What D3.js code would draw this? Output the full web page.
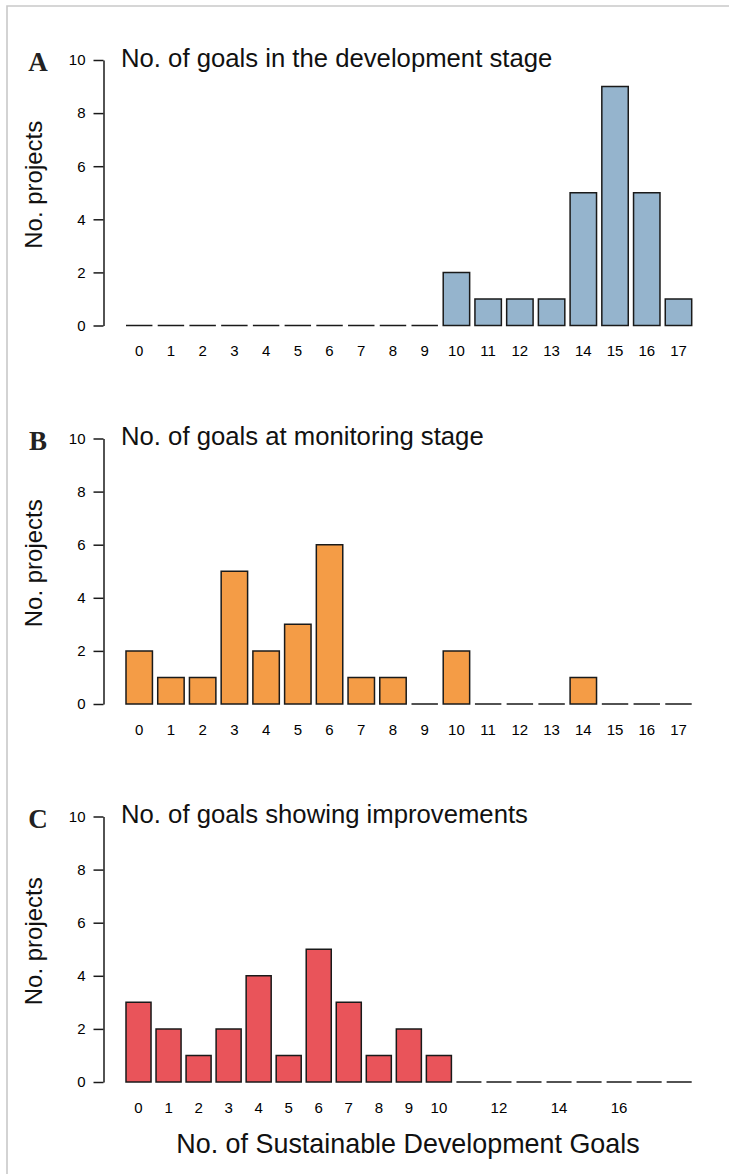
<!DOCTYPE html>
<html>
<head>
<meta charset="utf-8">
<script src="https://cdn.jsdelivr.net/npm/d3@7"></script>
<style>
  html, body { margin: 0; padding: 0; background: #fff; }
  svg { display: block; }
</style>
</head>
<body>
<div id="chart"></div>
<script>
// Number of SDGs per project, by stage
const goalsAB = ["0","1","2","3","4","5","6","7","8","9","10","11","12","13","14","15","16","17"];
const goalsC  = ["0","1","2","3","4","5","6","7","8","9","10","11","12","13","14","15","16","17","18"];

const developmentCounts = [0,0,0,0,0,0,0,0,0,0,2,1,1,1,5,9,5,1];
const monitoringCounts  = [2,1,1,5,2,3,6,1,1,0,2,0,0,0,1,0,0,0];
const improvementCounts = [3,2,1,2,4,1,5,3,1,2,1,0,0,0,0,0,0,0,0];

const yTicks = [0, 2, 4, 6, 8, 10];
const xTickLabelsC = ["0","1","2","3","4","5","6","7","8","9","10","12","14","16"];

const panelTitles = [
  "No. of goals in the development stage",
  "No. of goals at monitoring stage",
  "No. of goals showing improvements"
];
const panelLetters = ["A", "B", "C"];
const panelColors = ["#95b4cd", "#f49c46", "#e9545a"];

const panels = [
  { cats: goalsAB, values: developmentCounts, ticks: goalsAB },
  { cats: goalsAB, values: monitoringCounts, ticks: goalsAB },
  { cats: goalsC,  values: improvementCounts, ticks: xTickLabelsC }
];

const W = 729, H = 1174;
const svg = d3.select("#chart").append("svg")
  .attr("width", W).attr("height", H);

// light frame around the figure
svg.append("path")
  .attr("d", `M7,${H + 5} V6 H${W + 5}`)
  .attr("fill", "none")
  .attr("stroke", "#c9c9c9")
  .attr("stroke-width", 1.6);

const axisX = 103.5;
const plotLeft = 126, plotRight = 691.7;
const zeroYs = [325.5, 704, 1082];
const unitPx = 26.55;
const font = "'Liberation Sans', Arial, Helvetica, sans-serif";
const tickFont = 15;

panels.forEach((p, i) => {
  const zeroY = zeroYs[i];
  const y = d3.scaleLinear().domain([0, 10]).range([zeroY, zeroY - 10 * unitPx]);
  const x = d3.scaleBand().domain(p.cats)
    .range([plotLeft, plotRight])
    .paddingInner(1 / 6).paddingOuter(0);

  const g = svg.append("g");

  // bars (paths so that zero-count bars still show as a flat line)
  g.append("g").selectAll("path")
    .data(p.cats.map((c, k) => ({ c, v: p.values[k] })))
    .join("path")
    .attr("d", d => {
      const x0 = x(d.c), x1 = x0 + x.bandwidth();
      return `M${x0},${y(0)} V${y(d.v)} H${x1} V${y(0)} Z`;
    })
    .attr("fill", panelColors[i])
    .attr("stroke", "#1a1a1a")
    .attr("stroke-width", 1.5)
    .attr("stroke-linejoin", "miter");

  // y axis
  const yAxis = g.append("g")
    .attr("transform", `translate(${axisX},0)`)
    .call(d3.axisLeft(y).tickValues(yTicks).tickSize(10).tickSizeOuter(0).tickPadding(8));
  yAxis.attr("font-size", tickFont).attr("font-family", font);
  yAxis.select(".domain").attr("stroke", "#1a1a1a").attr("stroke-width", 1.5);
  yAxis.selectAll(".tick line").attr("stroke", "#1a1a1a").attr("stroke-width", 1.5);
  yAxis.selectAll(".tick text").attr("fill", "#000");

  // x axis labels only
  const xAxis = g.append("g")
    .attr("transform", `translate(0,${zeroY + 20})`)
    .call(d3.axisBottom(x).tickValues(p.ticks).tickSize(0).tickPadding(0));
  xAxis.attr("font-size", tickFont).attr("font-family", font);
  xAxis.select(".domain").remove();
  xAxis.selectAll(".tick text").attr("fill", "#000");

  // panel title
  g.append("text")
    .attr("x", 121).attr("y", y(10) + 6.5)
    .attr("font-family", font).attr("font-size", 25.7)
    .attr("fill", "#111")
    .text(panelTitles[i]);

  // panel letter
  g.append("text")
    .attr("x", 38).attr("y", y(10) + 11)
    .attr("text-anchor", "middle")
    .attr("font-family", "'Liberation Serif', 'Times New Roman', serif")
    .attr("font-weight", "bold").attr("font-size", 27)
    .attr("fill", "#222")
    .text(panelLetters[i]);

  // y axis title
  const midY = (y(0) + y(10)) / 2 - 8;
  g.append("text")
    .attr("transform", `translate(42,${midY}) rotate(-90)`)
    .attr("text-anchor", "middle")
    .attr("font-family", font).attr("font-size", 24)
    .attr("fill", "#111")
    .text("No. projects");
});

// shared x axis title
svg.append("text")
  .attr("x", 408).attr("y", 1153)
  .attr("text-anchor", "middle")
  .attr("font-family", font).attr("font-size", 26.9)
  .attr("fill", "#111")
  .text("No. of Sustainable Development Goals");
</script>
</body>
</html>
